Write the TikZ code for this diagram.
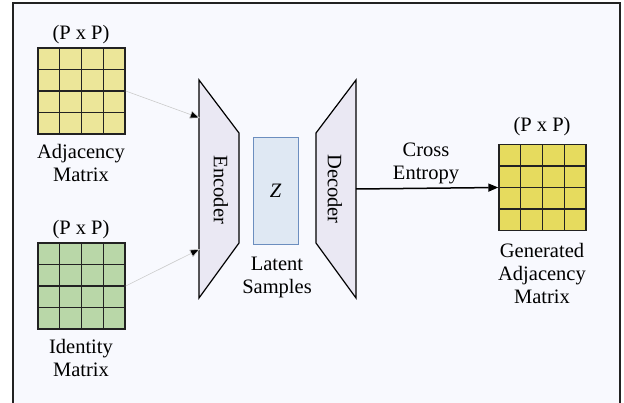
\documentclass[tikz,border=0pt]{standalone}
\usepackage{fontspec}
\setmainfont{Liberation Serif}
\usetikzlibrary{arrows.meta}
\definecolor{bgc}{HTML}{F8F9FE}
\definecolor{yel1}{HTML}{ECE699}
\definecolor{grn}{HTML}{B9D7A8}
\definecolor{yel2}{HTML}{E6DB5E}
\definecolor{zfill}{HTML}{DFE8F3}
\definecolor{zdraw}{HTML}{6C8EBF}
\definecolor{trapc}{HTML}{EAE8F3}
\definecolor{linec}{HTML}{222222}
\tikzset{
  gridmat/.style={draw=linec, line width=1.4pt, minimum width=87pt, minimum height=86pt, inner sep=0pt,
    path picture={
      \foreach \i in {1,2,3}{
        \draw[linec, line width=1.4pt] ($(path picture bounding box.south west)!\i/4!(path picture bounding box.south east)$) -- ++(0,90pt);
        \draw[linec, line width=1.4pt] ($(path picture bounding box.south west)!\i/4!(path picture bounding box.north west)$) -- ++(90pt,0);
      }
    }},
  lbl/.style={align=center, font=\fontsize{20.5}{23}\selectfont, inner sep=0pt},
  trap/.style={draw=black, line width=1.2pt, fill=trapc},
  thinarrow/.style={draw=black!20, line width=0.6pt, -{Triangle[length=10pt,width=8pt,fill=black]}},
  mainarrow/.style={draw=black, line width=1.5pt, -{Triangle[length=10pt,width=8pt]}},
}
\usetikzlibrary{calc}
\begin{document}
\begin{tikzpicture}[x=1pt,y=-1pt]
\useasboundingbox (0,0) rectangle (624,403);
\fill[white] (0,0) rectangle (624,403);
\draw[fill=bgc, draw=linec, line width=1.5pt] (13,3) rectangle (620,420);

% matrices
\node[gridmat, fill=yel1] (adj) at (81.5,91) {};
\node[gridmat, fill=grn] (idm) at (81.5,286) {};
\node[gridmat, fill=yel2] (gen) at (542.5,187.5) {};

\node[lbl] (adjdim) at (81,35) {(P x P)};
\node[lbl] (adjlbl) at (81,163) {Adjacency\\Matrix};
\node[lbl] (iddim) at (81,230) {(P x P)};
\node[lbl] (idlbl) at (81,358) {Identity\\Matrix};
\node[lbl] (gendim) at (542,127) {(P x P)};
\node[lbl] (genlbl) at (542,273) {Generated\\Adjacency\\Matrix};

% encoder / decoder
\draw[trap] (199,80) -- (239,133) -- (239,243) -- (199,298) -- cycle;
\draw[trap] (316,133) -- (356,80) -- (356,298) -- (316,243) -- cycle;
\node[lbl, rotate=-90] (enc) at (221,190) {Encoder};
\node[lbl, rotate=-90] (dec) at (335,189) {Decoder};
\coordinate (encin1) at (200,118);
\coordinate (encin2) at (200,249);
\coordinate (decout) at (356,189);

% latent
\node[draw=zdraw, fill=zfill, line width=0.8pt, minimum width=45pt, minimum height=107pt, inner sep=0pt] (z) at (275.5,190.5) {};
\node[lbl] (zt) at (z) {\itshape Z};
\node[lbl] (lat) at (277,277) {Latent\\Samples};

\node[lbl] (ce) at (426,163) {Cross\\Entropy};

% arrows
\draw[thinarrow] (adj.east) -- (encin1);
\draw[thinarrow] (idm.east) -- (encin2);
\draw[mainarrow] (decout) -- (gen.west);
\end{tikzpicture}
\end{document}
